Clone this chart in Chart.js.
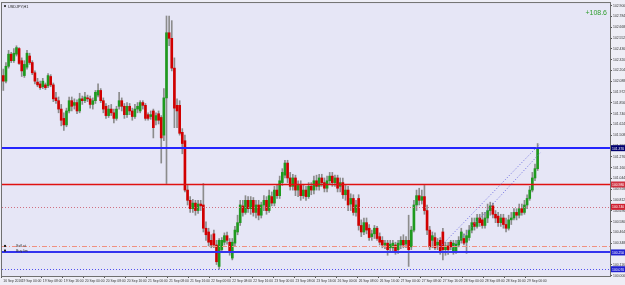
<!DOCTYPE html>
<html>
<head>
<meta charset="utf-8">
<script src="https://cdn.jsdelivr.net/npm/chart.js@4.4.0/dist/chart.umd.min.js"></script>
<style>
  html, body { margin: 0; padding: 0; background: #eeeef6; }
  #wrap { width: 625px; height: 285px; }
</style>
</head>
<body>
<div id="wrap"><canvas id="usdjpy" width="625" height="285"></canvas></div>
<script>
// USDJPY H1, 16 Sep 2016 17:00 .. 29 Sep 2016 04:00 (broker time)
const symbolTitle = 'USDJPY,H1';
const profitText = '+108.6';
const firstTickLabel = '16 Sep 2016';
const sessions = [
    ['16 Sep', 17, 23], ['19 Sep', 0, 23], ['20 Sep', 0, 23], ['21 Sep', 0, 23],
    ['22 Sep', 0, 23], ['23 Sep', 0, 23], ['26 Sep', 0, 23], ['27 Sep', 0, 23],
    ['28 Sep', 0, 23], ['29 Sep', 0, 4]
];
const futureBars = 27;  // empty space on the right (chart shift)

const opens = [
    102.15, 102.09, 102.25, 102.38, 102.31, 102.38, 102.44,
    102.31, 102.15, 102.24, 102.36, 102.29, 102.18, 102.08, 102.06,
    102.03, 102.05, 102.04, 102.14, 102.05, 101.91, 101.88, 101.79,
    101.69, 101.62, 101.77, 101.88, 101.83, 101.86, 101.77, 101.90,
    101.88, 101.91, 101.90, 101.84, 101.88, 101.94, 101.99, 101.88,
    101.82, 101.72, 101.79, 101.75, 101.69, 101.82, 101.88, 101.82,
    101.73, 101.82, 101.77, 101.71, 101.79, 101.77, 101.86, 101.83,
    101.73, 101.71, 101.77, 101.67, 101.74, 101.70, 101.51, 101.91,
    102.61, 102.55, 102.23, 101.83, 101.83, 101.54, 101.45, 100.92,
    100.81, 100.72, 100.78, 100.70, 100.77, 100.76, 100.51, 100.47,
    100.38, 100.45, 100.33, 100.10, 100.28, 100.36, 100.43, 100.36,
    100.19, 100.35, 100.47, 100.57, 100.75, 100.68, 100.81, 100.72,
    100.81, 100.68, 100.76, 100.65, 100.76, 100.81, 100.70, 100.85,
    100.78, 100.92, 100.86, 101.00, 101.08, 101.21, 101.05, 100.96,
    101.05, 100.92, 100.97, 100.86, 100.92, 100.85, 100.96, 100.92,
    101.02, 100.96, 101.05, 101.00, 100.94, 101.02, 101.07, 101.00,
    101.05, 100.96, 101.00, 100.87, 100.92, 100.77, 100.83, 100.68,
    100.83, 100.54, 100.47, 100.57, 100.51, 100.42, 100.45, 100.51,
    100.42, 100.38, 100.33, 100.35, 100.30, 100.30, 100.33, 100.28,
    100.33, 100.38, 100.34, 100.38, 100.31, 100.49, 100.76, 100.86,
    100.81, 100.85, 100.70, 100.49, 100.38, 100.41, 100.33, 100.38,
    100.47, 100.28, 100.32, 100.36, 100.25, 100.25, 100.33, 100.38,
    100.40, 100.36, 100.41, 100.49, 100.57, 100.53, 100.62, 100.60,
    100.54, 100.62, 100.70, 100.75, 100.66, 100.64, 100.57, 100.62,
    100.55, 100.51, 100.60, 100.62, 100.68, 100.65, 100.72, 100.68,
    100.76, 100.83, 100.92, 101.05, 101.15
];
const highs = [
    102.22, 102.29, 102.42, 102.40, 102.44, 102.47, 102.45,
    102.34, 102.31, 102.42, 102.39, 102.31, 102.20, 102.12, 102.09,
    102.12, 102.07, 102.17, 102.16, 102.07, 101.97, 101.92, 101.84,
    101.75, 101.80, 101.92, 101.92, 101.90, 101.89, 101.96, 101.93,
    101.97, 101.94, 101.93, 101.91, 101.99, 102.06, 102.01, 101.91,
    101.85, 101.83, 101.84, 101.79, 101.82, 101.97, 101.91, 101.85,
    101.86, 101.85, 101.80, 101.84, 101.86, 101.88, 101.88, 101.85,
    101.75, 101.77, 101.79, 101.75, 101.77, 101.72, 102.01, 102.79,
    102.79, 102.74, 102.34, 101.90, 101.88, 101.58, 101.51, 100.97,
    100.85, 100.82, 100.81, 100.81, 100.81, 100.99, 100.58, 100.51,
    100.44, 100.49, 100.38, 100.40, 100.41, 100.46, 100.47, 100.40,
    100.40, 100.53, 100.65, 100.81, 100.81, 100.86, 100.85, 100.85,
    100.84, 100.81, 100.81, 100.79, 100.86, 100.85, 100.92, 100.90,
    100.96, 100.98, 101.07, 101.15, 101.24, 101.24, 101.11, 101.09,
    101.08, 101.02, 101.02, 100.97, 100.96, 101.00, 101.00, 101.07,
    101.08, 101.09, 101.09, 101.05, 101.07, 101.11, 101.11, 101.08,
    101.08, 101.05, 101.05, 100.97, 100.96, 100.88, 100.87, 100.81,
    100.87, 100.60, 100.62, 100.62, 100.55, 100.49, 100.54, 100.53,
    100.46, 100.42, 100.38, 100.38, 100.38, 100.38, 100.36, 100.38,
    100.42, 100.44, 100.42, 100.65, 100.53, 100.81, 100.92, 100.94,
    100.92, 100.97, 100.76, 100.53, 100.47, 100.46, 100.40, 100.41,
    100.51, 100.36, 100.36, 100.38, 100.38, 100.38, 100.42, 100.51,
    100.45, 100.49, 100.54, 100.62, 100.62, 100.66, 100.66, 100.68,
    100.68, 100.77, 100.79, 100.78, 100.70, 100.68, 100.66, 100.66,
    100.62, 100.65, 100.68, 100.72, 100.72, 100.77, 100.77, 100.81,
    100.87, 100.96, 101.11, 101.20, 101.42
];
const lows = [
    101.99, 102.07, 102.23, 102.29, 102.29, 102.36, 102.27,
    102.14, 102.13, 102.22, 102.27, 102.16, 102.06, 102.03, 102.00,
    102.01, 102.00, 102.02, 102.03, 101.87, 101.85, 101.75, 101.61,
    101.56, 101.60, 101.75, 101.77, 101.79, 101.74, 101.75, 101.84,
    101.86, 101.87, 101.80, 101.79, 101.85, 101.92, 101.86, 101.75,
    101.69, 101.70, 101.72, 101.64, 101.67, 101.79, 101.77, 101.69,
    101.70, 101.73, 101.67, 101.69, 101.75, 101.75, 101.79, 101.67,
    101.67, 101.68, 101.48, 101.62, 101.63, 101.21, 101.45, 100.99,
    102.47, 102.20, 101.59, 101.59, 101.51, 101.31, 100.90, 100.76,
    100.68, 100.68, 100.65, 100.67, 100.70, 100.47, 100.38, 100.32,
    100.30, 100.30, 100.12, 100.07, 100.25, 100.33, 100.34, 100.22,
    100.17, 100.32, 100.44, 100.54, 100.64, 100.66, 100.68, 100.66,
    100.64, 100.62, 100.60, 100.62, 100.70, 100.66, 100.68, 100.75,
    100.75, 100.83, 100.83, 100.97, 101.05, 101.00, 100.92, 100.92,
    100.86, 100.85, 100.81, 100.83, 100.81, 100.83, 100.87, 100.88,
    100.92, 100.92, 100.96, 100.90, 100.90, 100.98, 100.96, 100.96,
    100.90, 100.90, 100.83, 100.81, 100.70, 100.70, 100.65, 100.64,
    100.49, 100.42, 100.44, 100.45, 100.38, 100.38, 100.40, 100.38,
    100.33, 100.30, 100.29, 100.22, 100.26, 100.25, 100.23, 100.24,
    100.29, 100.30, 100.30, 100.10, 100.28, 100.47, 100.70, 100.76,
    100.77, 100.66, 100.44, 100.28, 100.30, 100.28, 100.28, 100.23,
    100.17, 100.22, 100.23, 100.28, 100.23, 100.24, 100.31, 100.35,
    100.33, 100.24, 100.38, 100.46, 100.49, 100.51, 100.53, 100.51,
    100.51, 100.57, 100.65, 100.62, 100.57, 100.53, 100.53, 100.51,
    100.47, 100.49, 100.55, 100.60, 100.60, 100.62, 100.65, 100.66,
    100.72, 100.81, 100.90, 101.02, 101.13
];
const closes = [
    102.09, 102.25, 102.38, 102.31, 102.39, 102.45, 102.28,
    102.20, 102.27, 102.39, 102.29, 102.18, 102.09, 102.05, 102.02,
    102.09, 102.02, 102.15, 102.05, 101.90, 101.88, 101.79, 101.67,
    101.62, 101.77, 101.88, 101.82, 101.86, 101.77, 101.90, 101.88,
    101.92, 101.90, 101.84, 101.88, 101.97, 101.99, 101.88, 101.79,
    101.72, 101.79, 101.75, 101.69, 101.79, 101.88, 101.82, 101.73,
    101.82, 101.77, 101.71, 101.79, 101.82, 101.86, 101.83, 101.69,
    101.69, 101.73, 101.59, 101.72, 101.67, 101.48, 101.91, 102.61,
    102.55, 102.23, 101.80, 101.77, 101.53, 101.42, 100.92, 100.81,
    100.72, 100.78, 100.70, 100.77, 100.75, 100.51, 100.44, 100.36,
    100.33, 100.33, 100.15, 100.38, 100.38, 100.43, 100.38, 100.25,
    100.36, 100.49, 100.57, 100.76, 100.68, 100.81, 100.72, 100.81,
    100.68, 100.76, 100.65, 100.76, 100.81, 100.70, 100.86, 100.78,
    100.92, 100.86, 101.02, 101.11, 101.21, 101.05, 100.96, 101.05,
    100.92, 100.97, 100.86, 100.92, 100.85, 100.96, 100.92, 101.02,
    100.96, 101.05, 101.00, 100.94, 101.02, 101.07, 101.00, 101.05,
    100.94, 101.00, 100.87, 100.92, 100.76, 100.83, 100.68, 100.76,
    100.54, 100.47, 100.57, 100.49, 100.41, 100.45, 100.51, 100.40,
    100.36, 100.33, 100.35, 100.28, 100.34, 100.35, 100.25, 100.35,
    100.38, 100.33, 100.38, 100.28, 100.49, 100.76, 100.86, 100.81,
    100.85, 100.70, 100.49, 100.31, 100.43, 100.30, 100.36, 100.25,
    100.28, 100.32, 100.28, 100.31, 100.35, 100.34, 100.38, 100.47,
    100.35, 100.43, 100.49, 100.57, 100.53, 100.62, 100.57, 100.54,
    100.62, 100.70, 100.75, 100.66, 100.62, 100.57, 100.62, 100.55,
    100.51, 100.60, 100.62, 100.68, 100.65, 100.72, 100.68, 100.76,
    100.83, 100.92, 101.05, 101.15, 101.37
];

// price axis labels
const priceTicks = [
    100.000, 100.116, 100.232, 100.348, 100.464, 100.580, 100.696, 100.812, 100.928,
    101.044, 101.160, 101.276, 101.392, 101.508, 101.624, 101.740, 101.856, 101.972,
    102.088, 102.204, 102.320, 102.436, 102.552, 102.668, 102.784, 102.900
];
const priceMin = 99.997;
const priceMax = 102.929;

// horizontal objects on the chart (price levels)
const levelPrices = [101.37, 100.98, 100.74, 100.32, 100.25, 100.07];
// dotted trend lines: [bar index, price] pairs
const trendA = [[166, 100.31], [204, 101.42]];
const trendB = [[169, 100.25], [204, 101.32]];
// order markers bottom-left
const markerNames = ['Sell st', 'Buy lim'];
const markerPrices = [100.32, 100.27];

// ---- build labels ----
const labels = [];
sessions.forEach(([day, from, to]) => {
    for (let h = from; h <= to; h++) {
        labels.push(day + ' ' + String(h).padStart(2, '0') + ':00');
    }
});
for (let k = 0; k < futureBars; k++) labels.push('');

function tickText(index) {
    if (index === 0) return firstTickLabel;
    const lab = labels[index];
    if (!lab) return '';
    const hour = parseInt(lab.slice(-5, -3), 10);
    return hour % 8 === 0 ? lab : '';
}

const bullColor = '#1f9a1f';
const bearColor = '#d10000';
const smallFont = '"Liberation Sans", Arial, sans-serif';

const levelStyles = [
    { color: '#2424ff', width: 2, dash: [], box: '#000070' },
    { color: '#e01010', width: 1.5, dash: [], box: '#d03040' },
    { color: '#d07080', width: 1, dash: [1, 2], box: '#d02030' },
    { color: '#f09080', width: 1, dash: [5, 2, 1, 2], box: null },
    { color: '#3333ee', width: 2, dash: [], box: '#2020d0' },
    { color: '#5050f0', width: 1, dash: [1, 2], box: '#2020d0' }
];

const mtDecor = {
    id: 'mtDecor',
    beforeDraw(chart) {
        const { ctx, chartArea: a } = chart;
        ctx.save();
        ctx.fillStyle = '#e6e6f6';
        ctx.fillRect(a.left, a.top, a.right - a.left, a.bottom - a.top);
        ctx.restore();
    },
    afterDatasetsDraw(chart) {
        const { ctx, chartArea: a, scales } = chart;
        const y = scales.y, x = scales.x;
        ctx.save();
        ctx.beginPath();
        ctx.rect(a.left, a.top, a.right - a.left, a.bottom - a.top);
        ctx.clip();

        levelPrices.forEach((p, i) => {
            const st = levelStyles[i];
            const py = Math.round(y.getPixelForValue(p)) + (st.width % 2 ? 0.5 : 0);
            ctx.strokeStyle = st.color;
            ctx.lineWidth = st.width;
            ctx.setLineDash(st.dash);
            ctx.beginPath();
            ctx.moveTo(a.left, py);
            ctx.lineTo(a.right, py);
            ctx.stroke();
        });

        ctx.setLineDash([1, 2]);
        ctx.lineWidth = 1;
        ctx.strokeStyle = '#6a6ae0';
        [trendA, trendB].forEach(t => {
            ctx.beginPath();
            ctx.moveTo(x.getPixelForValue(t[0][0]), y.getPixelForValue(t[0][1]));
            ctx.lineTo(x.getPixelForValue(t[1][0]), y.getPixelForValue(t[1][1]));
            ctx.stroke();
        });
        ctx.setLineDash([]);

        // order markers
        ctx.font = '3.6px ' + smallFont;
        ctx.textBaseline = 'middle';
        markerNames.forEach((name, i) => {
            const py = y.getPixelForValue(markerPrices[i]);
            ctx.fillStyle = '#222';
            ctx.fillRect(a.left + 2, py - 1, 2, 2);
            ctx.fillStyle = '#333';
            ctx.fillText(name, a.left + 14, py);
        });
        ctx.restore();
    },
    afterDraw(chart) {
        const { ctx, chartArea: a, scales } = chart;
        const y = scales.y;
        ctx.save();
        // frame
        ctx.strokeStyle = '#707070';
        ctx.lineWidth = 1;
        ctx.strokeRect(a.left - 0.5, a.top - 0.5, a.right - a.left + 1, a.bottom - a.top + 1);

        // price boxes on the axis
        ctx.font = '3.4px ' + smallFont;
        ctx.textBaseline = 'middle';
        ctx.textAlign = 'left';
        levelPrices.forEach((p, i) => {
            const st = levelStyles[i];
            if (!st.box) return;
            const py = y.getPixelForValue(p);
            ctx.fillStyle = st.box;
            ctx.fillRect(a.right + 1, py - 3, 14, 6);
            ctx.fillStyle = '#ffffff';
            ctx.fillText(p.toFixed(3), a.right + 2, py + 0.5);
        });

        // title
        ctx.fillStyle = '#444';
        ctx.fillRect(a.left + 2, a.top + 2, 2, 2);
        ctx.fillStyle = '#222';
        ctx.font = '3.8px ' + smallFont;
        ctx.fillText(symbolTitle, a.left + 6, a.top + 3.5);

        // profit
        ctx.fillStyle = '#2f9e2f';
        ctx.font = '7px ' + smallFont;
        ctx.textAlign = 'right';
        ctx.fillText(profitText, a.right - 3, a.top + 10);
        ctx.restore();
    }
};

const ctx = document.getElementById('usdjpy').getContext('2d');
new Chart(ctx, {
    type: 'bar',
    data: {
        labels: labels,
        datasets: [
            {
                label: 'body',
                data: opens.map((o, i) => [o, closes[i]]),
                backgroundColor: opens.map((o, i) => closes[i] >= o ? bullColor : bearColor),
                borderWidth: 0,
                barThickness: 2,
                minBarLength: 1,
                grouped: false,
                order: 0
            },
            {
                label: 'wick',
                data: lows.map((l, i) => [l, highs[i]]),
                backgroundColor: '#8c8c8c',
                borderWidth: 0,
                barThickness: 1,
                grouped: false,
                order: 1
            }
        ]
    },
    options: {
        responsive: false,
        animation: false,
        devicePixelRatio: 1,
        layout: { padding: { left: 2, top: 2, right: 0, bottom: 0 } },
        plugins: {
            legend: { display: false },
            tooltip: { enabled: false }
        },
        scales: {
            x: {
                offset: true,
                afterFit: (scale) => { scale.height = 9; },
                grid: {
                    drawOnChartArea: false,
                    tickLength: 2,
                    color: (c) => (c.index !== undefined && tickText(c.index)) ? '#555' : 'rgba(0,0,0,0)'
                },
                border: { display: true, color: '#555' },
                ticks: {
                    autoSkip: false,
                    maxRotation: 0,
                    minRotation: 0,
                    align: 'start',
                    padding: 1,
                    color: '#333',
                    font: { family: smallFont, size: 3.3 },
                    callback: (value, index) => tickText(index)
                }
            },
            y: {
                position: 'right',
                min: priceMin,
                max: priceMax,
                afterFit: (scale) => { scale.width = 15; },
                afterBuildTicks: (scale) => { scale.ticks = priceTicks.map(v => ({ value: v })); },
                grid: { drawOnChartArea: false, tickLength: 2, color: '#555' },
                border: { display: true, color: '#555' },
                ticks: {
                    padding: 1,
                    color: '#333',
                    font: { family: smallFont, size: 3.4 },
                    callback: (v) => Number(v).toFixed(3)
                }
            }
        }
    },
    plugins: [mtDecor]
});
</script>
</body>
</html>
